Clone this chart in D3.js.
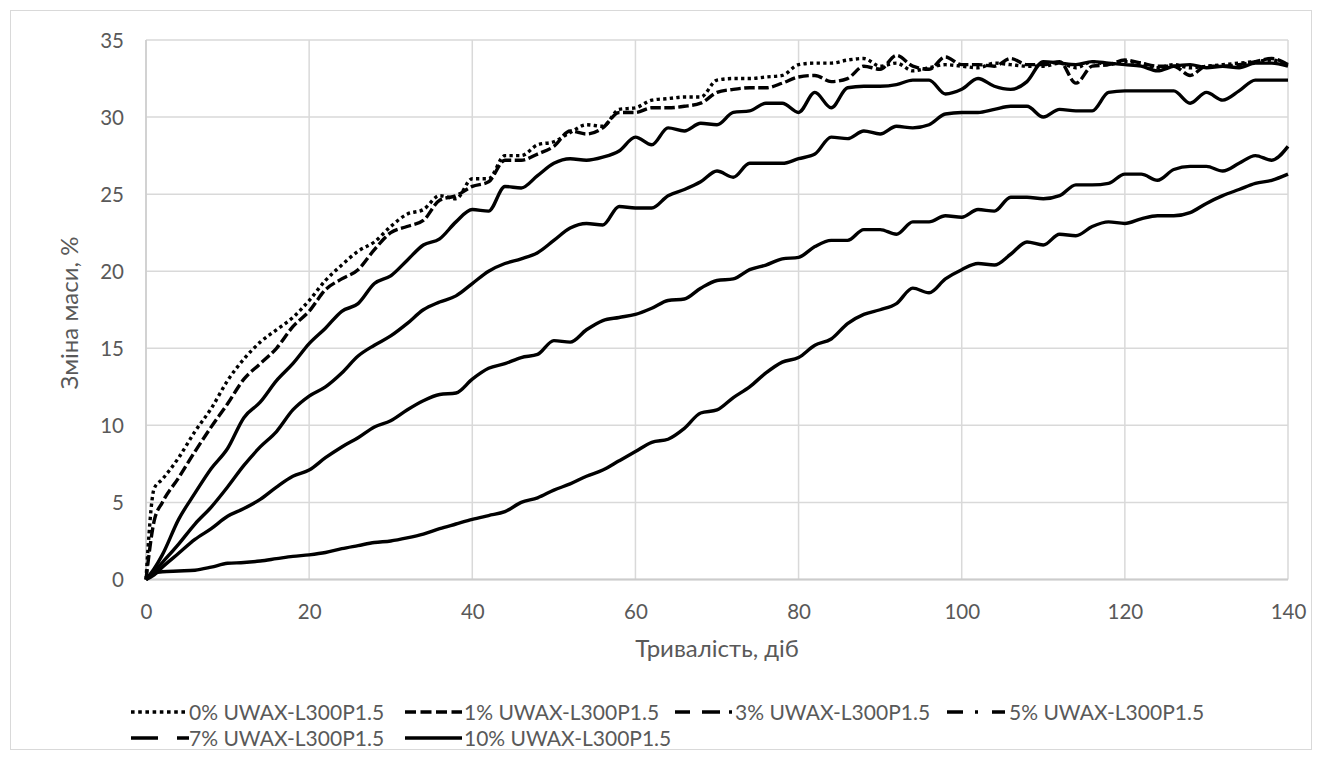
<!DOCTYPE html>
<html><head><meta charset="utf-8">
<script src="https://cdn.jsdelivr.net/npm/d3@7"></script>
<style>
body{margin:0;background:#fff}
svg{display:block}
text{font-family:Lato,"Open Sans",sans-serif;fill:#595959}
</style></head>
<body><svg id="c" width="1322" height="760"></svg>
<script>
const days = [0,1,2,4,6,8,10,12,14,16,18,20,22,24,26,28,30,32,34,36,38,40,42,44,46,48,50,52,54,56,58,60,62,64,66,68,70,72,74,76,78,80,82,84,86,88,90,92,94,96,98,100,102,104,106,108,110,112,114,116,118,120,122,124,126,128,130,132,134,136,138,140];

const s0 = [0,5.9,6.5,7.9,9.6,11.1,12.9,14.3,15.4,16.2,17.0,18.1,19.4,20.4,21.3,21.9,22.9,23.7,24.0,24.9,24.7,26.0,26.0,27.5,27.5,28.2,28.4,29.0,29.5,29.4,30.5,30.6,31.1,31.2,31.3,31.3,32.4,32.5,32.5,32.6,32.7,33.4,33.5,33.5,33.7,33.8,33.3,33.5,33.0,33.2,33.4,33.3,33.2,33.5,33.4,33.3,33.3,33.5,33.2,33.6,33.4,33.6,33.5,33.2,33.4,33.2,33.3,33.4,33.5,33.6,33.7,33.4];
const s1 = [0,3.8,5.0,6.6,8.3,9.9,11.4,13.0,14.0,15.0,16.4,17.4,18.8,19.5,20.1,21.4,22.5,22.9,23.3,24.6,24.9,25.5,25.8,27.2,27.2,27.6,28.1,29.1,28.9,29.3,30.3,30.3,30.6,30.6,30.7,30.9,31.6,31.8,31.9,31.9,32.2,32.6,32.7,32.3,32.5,33.3,33.1,34.0,33.3,33.1,33.9,33.4,33.4,33.3,33.8,33.4,33.4,33.6,32.2,33.3,33.4,33.7,33.5,33.3,33.3,32.7,33.3,33.3,33.4,33.6,33.8,33.4];
const s3 = [0,0.7,1.6,3.9,5.6,7.2,8.5,10.5,11.5,12.9,14.0,15.3,16.3,17.4,17.9,19.2,19.7,20.7,21.7,22.1,23.2,24.0,23.9,25.5,25.4,26.2,27.0,27.3,27.2,27.4,27.8,28.7,28.2,29.3,29.1,29.6,29.5,30.3,30.4,30.9,30.9,30.3,31.6,30.6,31.9,32.0,32.0,32.1,32.4,32.4,31.5,31.8,32.5,32.0,31.8,32.3,33.6,33.5,33.4,33.6,33.5,33.4,33.3,33.0,33.3,33.4,33.2,33.3,33.2,33.5,33.5,33.3];
const s5 = [0,0.5,1.1,2.3,3.6,4.7,6.0,7.4,8.6,9.6,11.0,11.9,12.5,13.4,14.5,15.2,15.8,16.6,17.5,18.0,18.4,19.2,20.0,20.5,20.8,21.2,22.0,22.8,23.1,23.0,24.2,24.1,24.1,24.9,25.3,25.8,26.5,26.1,27.0,27.0,27.0,27.3,27.6,28.7,28.6,29.1,28.9,29.4,29.3,29.5,30.2,30.3,30.3,30.5,30.7,30.7,30.0,30.5,30.4,30.4,31.6,31.7,31.7,31.7,31.7,30.9,31.6,31.1,31.7,32.4,32.4,32.4];
const s7 = [0,0.3,0.8,1.7,2.6,3.3,4.1,4.6,5.2,6.0,6.7,7.1,7.9,8.6,9.2,9.9,10.3,11.0,11.6,12.0,12.1,13.0,13.7,14.0,14.4,14.6,15.5,15.4,16.2,16.8,17.0,17.2,17.6,18.1,18.2,18.9,19.4,19.5,20.1,20.4,20.8,20.9,21.6,22.0,22.0,22.7,22.7,22.4,23.2,23.2,23.6,23.5,24.0,23.9,24.8,24.8,24.7,24.9,25.6,25.6,25.7,26.3,26.3,25.9,26.6,26.8,26.8,26.5,27.0,27.5,27.2,28.1];
const s10 = [0,0.4,0.5,0.55,0.6,0.8,1.05,1.1,1.2,1.35,1.5,1.6,1.75,2.0,2.2,2.4,2.5,2.7,2.95,3.3,3.6,3.9,4.15,4.4,5.0,5.3,5.8,6.2,6.7,7.1,7.7,8.3,8.9,9.1,9.8,10.8,11.0,11.8,12.5,13.4,14.1,14.4,15.2,15.6,16.6,17.2,17.5,17.9,18.9,18.6,19.5,20.1,20.5,20.4,21.1,21.9,21.7,22.4,22.3,22.9,23.2,23.1,23.4,23.6,23.6,23.8,24.4,24.9,25.3,25.7,25.9,26.3];

const seriesNames = ["0% UWAX-L300P1.5","1% UWAX-L300P1.5","3% UWAX-L300P1.5","5% UWAX-L300P1.5","7% UWAX-L300P1.5","10% UWAX-L300P1.5"];
const seriesValues = [s0,s1,s3,s5,s7,s10];
const xTicks = [0,20,40,60,80,100,120,140];
const yTicks = [0,5,10,15,20,25,30,35];
const xTitle = "Тривалість, діб";
const yTitle = "Зміна маси, %";

const svg = d3.select("#c");
svg.append("rect").attr("x",10.5).attr("y",10.5).attr("width",1301).attr("height",739)
  .attr("fill","#fff").attr("stroke","#d9d9d9").attr("stroke-width",1);

const x = d3.scaleLinear().domain([0,140]).range([146,1288]);
const y = d3.scaleLinear().domain([0,35]).range([579.5,40]);

const grid = svg.append("g");
grid.selectAll("line.h").data(yTicks).join("line")
  .attr("x1",x(0)).attr("x2",x(140)).attr("y1",d=>y(d)).attr("y2",d=>y(d))
  .attr("stroke","#d9d9d9").attr("stroke-width",1.5);
grid.selectAll("line.v").data(xTicks).join("line")
  .attr("y1",y(0)).attr("y2",y(35)).attr("x1",d=>x(d)).attr("x2",d=>x(d))
  .attr("stroke","#d9d9d9").attr("stroke-width",1.5);
svg.append("line").attr("x1",x(0)).attr("x2",x(140)).attr("y1",y(0)).attr("y2",y(0))
  .attr("stroke","#cccccc").attr("stroke-width",2);
svg.append("line").attr("x1",x(0)).attr("x2",x(0)).attr("y1",y(0)).attr("y2",y(35))
  .attr("stroke","#cccccc").attr("stroke-width",1.5);

const xAxis = d3.axisBottom(x).tickValues(xTicks).tickSize(0).tickPadding(0);
const gx = svg.append("g").attr("transform",`translate(0,612)`).call(xAxis);
gx.select(".domain").remove();
gx.selectAll("text").attr("font-size",20.5).attr("dy","0.36em").attr("y",0).attr("fill","#595959").style("font-family","Lato");

const yAxis = d3.axisLeft(y).tickValues(yTicks).tickSize(0).tickPadding(0);
const gy = svg.append("g").attr("transform",`translate(124,0)`).call(yAxis);
gy.select(".domain").remove();
gy.selectAll("text").attr("font-size",20.5).attr("dy","0.36em").attr("fill","#595959").style("font-family","Lato");

svg.append("text").attr("x",(x(0)+x(140))/2).attr("y",648).attr("dy","0.36em").attr("text-anchor","middle")
  .attr("font-size",24).text(xTitle);
svg.append("text").attr("transform",`translate(69,313) rotate(-90)`).attr("dy","0.36em")
  .attr("text-anchor","middle").attr("font-size",24).text(yTitle);

const styles = [
  {dash:"3.3,3.3"},
  {dash:"10.5,3.5"},
  {dash:null},
  {dash:null},
  {dash:null},
  {dash:null}
];
const line = d3.line().x((d,i)=>x(days[i])).y(d=>y(d)).curve(d3.curveMonotoneX);
const plot = svg.append("g");
seriesValues.forEach((vals,k)=>{
  plot.append("path").attr("d",line(vals)).attr("fill","none")
    .attr("stroke","#000").attr("stroke-width",3.4)
    .attr("stroke-dasharray",styles[k].dash)
    .attr("stroke-linejoin","round");
});

// legend
const legendSamples = [
  {x:131,y:712,len:57,dash:"3.6,3.6"},
  {x:405,y:712,len:57,dash:"11,4.5"},
  {x:675,y:712,len:57,dash:"15,12,18,9,3,40"},
  {x:947,y:712,len:58,dash:"16,12,3,14,13,40"},
  {x:131,y:738,len:58,dash:"27,19,12,40"},
  {x:405,y:738,len:57,dash:null}
];
const legendText = [189,464,735,1009,189,464];
const lg = svg.append("g");
legendSamples.forEach((s,i)=>{
  lg.append("line").attr("x1",s.x).attr("x2",s.x+s.len).attr("y1",s.y).attr("y2",s.y)
    .attr("stroke","#000").attr("stroke-width",3.5).attr("stroke-dasharray",s.dash);
  lg.append("text").attr("x",legendText[i]).attr("y",s.y).attr("dy","0.36em")
    .attr("font-size",21).text(seriesNames[i]);
});
</script></body></html>
